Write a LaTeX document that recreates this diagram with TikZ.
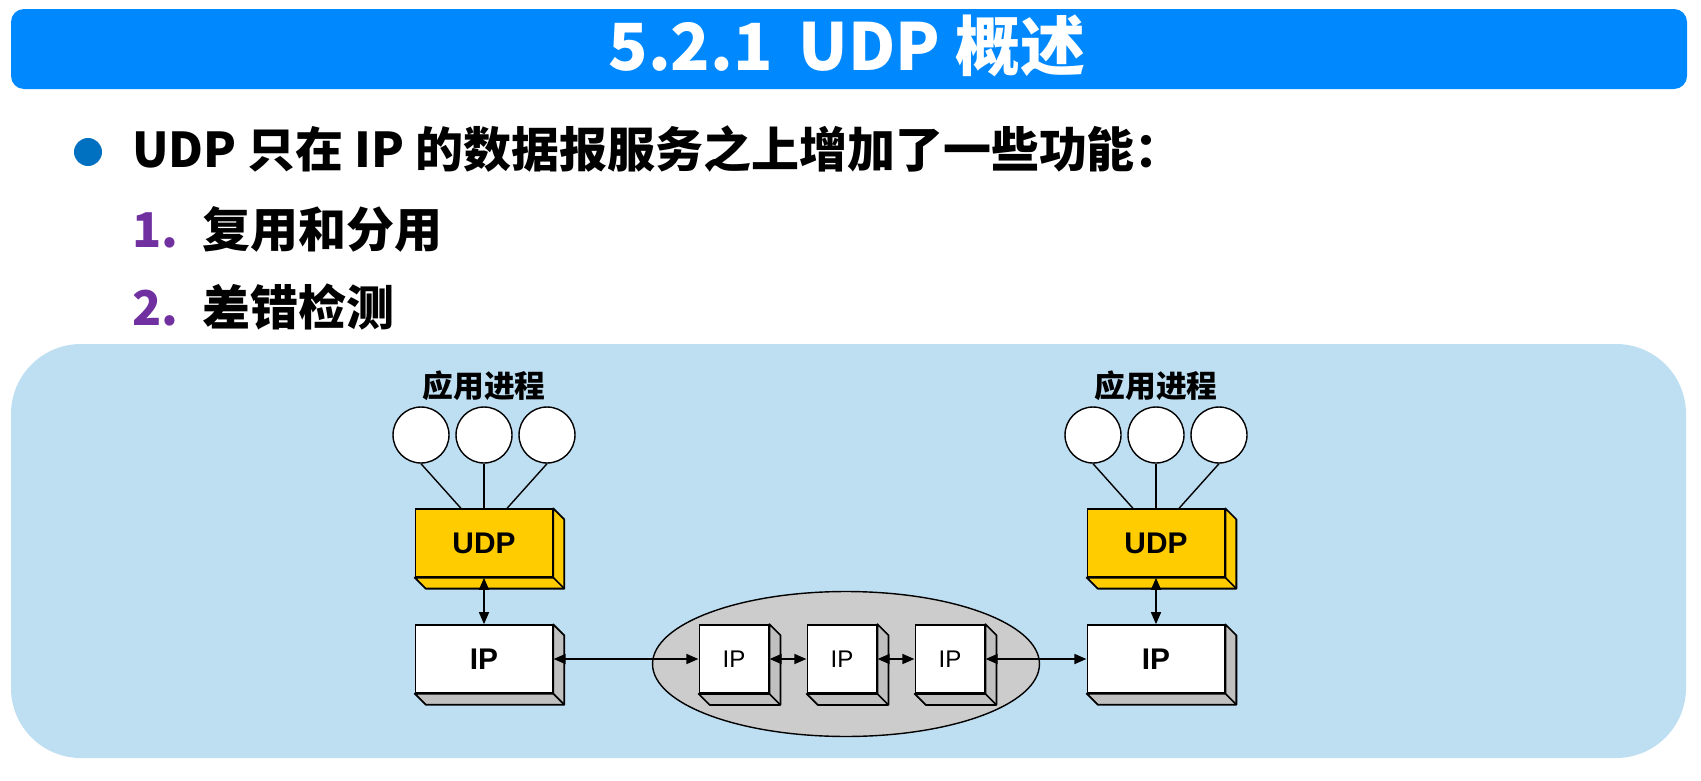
\documentclass[tikz,border=0pt]{standalone}
\usepackage{fontspec}
\usetikzlibrary{arrows.meta}
\newfontfamily\cjk{Noto Sans CJK SC}
\newfontfamily\arialfont{Liberation Sans}
\definecolor{titleblue}{RGB}{0,137,255}
\definecolor{panelblue}{RGB}{190,222,242}
\definecolor{dotblue}{RGB}{0,112,192}
\definecolor{numpurple}{RGB}{112,48,160}
\definecolor{udpgold}{RGB}{255,204,0}
\definecolor{sidegray}{RGB}{192,192,192}
\definecolor{netgray}{RGB}{204,204,204}

\tikzset{
  box/.style={draw=black, line width=1pt, minimum width=2.74cm, minimum height=1.35cm, inner sep=0pt,
    font=\arialfont\bfseries\fontsize{17pt}{20pt}\selectfont},
  udpbox/.style={box, fill=udpgold},
  ipbox/.style={box, fill=white},
  routerbox/.style={box, fill=white, minimum width=1.38cm, minimum height=1.36cm,
    font=\arialfont\fontsize{13.7pt}{16pt}\selectfont},
  proc/.style={circle, draw=black, fill=white, line width=0.8pt, minimum size=1.12cm, inner sep=0pt},
  link/.style={line width=0.8pt},
  duplex/.style={line width=1.5pt, {Triangle[length=7pt,width=5.5pt]}-{Triangle[length=7pt,width=5.5pt]}},
}

\begin{document}
\begin{tikzpicture}[x=0.02cm, y=-0.02cm]
    \useasboundingbox (0,0) rectangle (1701,781);

    % title bar and panel
    \fill[titleblue, rounded corners=0.26cm] (11,9) rectangle (1687,89);
    \fill[panelblue, rounded corners=1.4cm] (11,344) rectangle (1686,758);
    \node[anchor=base, text=white, font=\cjk\bfseries\fontsize{37pt}{44pt}\selectfont] (title) at (847,71) {5.2.1\hspace{0.4em}UDP 概述};

    % bullet text
    \fill[dotblue] (88,152) circle [radius=0.28cm];
    \node[anchor=base west, inner sep=0pt, font=\cjk\bfseries\fontsize{27.3pt}{32pt}\selectfont] (head) at (132,167) {UDP 只在 IP 的数据报服务之上增加了一些功能：};
    \foreach \i/\t/\y in {1/复用和分用/247, 2/差错检测/325}{
        \node[anchor=base west, inner sep=0pt, font=\cjk\bfseries\fontsize{27.3pt}{32pt}\selectfont] (item\i) at (132,\y) {\makebox[1.4cm][l]{\color{numpurple}\i.}\t};
    }

    % network cloud
    \draw[line width=0.8pt, fill=netgray] (846,664) ellipse [x radius=3.87cm, y radius=1.45cm];

    % end hosts
    \foreach \s/\x in {L/484, R/1156}{
        \node[font=\cjk\bfseries\fontsize{17.5pt}{20pt}\selectfont] (lab\s) at (\x,386) {应用进程};
        \foreach \k in {1,2,3}
            \node[proc] (p\s\k) at ({\x+63*(\k-2)},435) {};
        \node[udpbox] (udp\s) at (\x,543) {UDP};
        \node[ipbox] (ip\s) at (\x,659) {IP};
        \draw[link] (p\s1.south) -- ([xshift=-0.46cm]udp\s.north);
        \draw[link] (p\s2.south) -- (udp\s.north);
        \draw[link] (p\s3.south) -- ([xshift=0.46cm]udp\s.north);
    }

    % routers
    \foreach \k/\x in {1/734, 2/842, 3/950}
        \node[routerbox] (ip\k) at (\x,659) {IP};

    % depth faces
    \foreach \n/\c in {udpL/udpgold, udpR/udpgold, ipL/sidegray, ipR/sidegray, ip1/sidegray, ip2/sidegray, ip3/sidegray}{
        \draw[line width=1pt, fill=\c, line join=round] (\n.north east) -- ++(11,11) -- ([shift={(11,11)}]\n.south east)
            -- ([shift={(11,11)}]\n.south west) -- (\n.south west) -- (\n.south east) -- cycle;
        \draw[line width=1pt] (\n.south east) -- ++(11,11);
    }

    % links
    \draw[duplex] (udpL.south) -- (ipL.north);
    \draw[duplex] (udpR.south) -- (ipR.north);
    \draw[duplex] (ipL.east) -- (ip1.west);
    \draw[duplex] (ip1.east) -- (ip2.west);
    \draw[duplex] (ip2.east) -- (ip3.west);
    \draw[duplex] (ip3.east) -- (ipR.west);

\end{tikzpicture}
\end{document}
